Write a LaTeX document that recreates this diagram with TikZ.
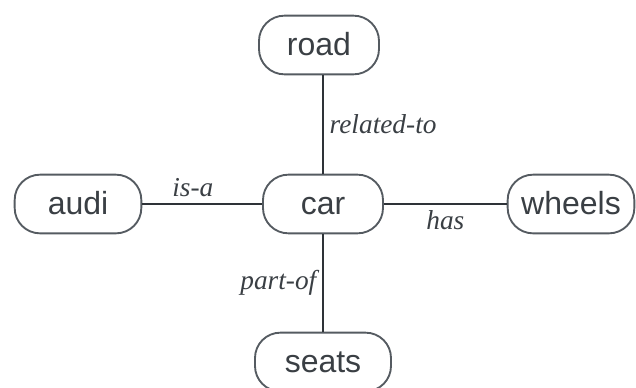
\documentclass[tikz,border=0pt]{standalone}
\usepackage{fontspec}
\newfontfamily\boxfont{Liberation Sans}
\newfontfamily\relfont{Liberation Serif}
\definecolor{boxline}{HTML}{555B61}
\definecolor{edgeline}{HTML}{2E3338}
\definecolor{labeltext}{HTML}{3A3F44}

\begin{document}
\begin{tikzpicture}[x=0.75pt,y=-0.75pt]
    \tikzstyle{concept}=[rectangle,draw=boxline,line width=1.4pt,rounded corners=19pt,minimum height=44pt,text height=17pt,text depth=2pt,font=\boxfont\fontsize{24}{28}\selectfont,text=labeltext]
    \tikzstyle{relation}=[font=\relfont\itshape\fontsize{20.5}{24}\selectfont,text=labeltext,midway,inner sep=4pt]
    \tikzstyle{link}=[draw=edgeline,line width=2.1pt]
    \useasboundingbox (0,0) rectangle (636,387);
    \node (road)   at (319,45)  [concept,minimum width=90pt]  {road};
    \node (car)    at (323,204) [concept,minimum width=90pt]  {car};
    \node (audi)   at (78,204)  [concept,minimum width=95pt]  {audi};
    \node (wheels) at (571,204) [concept,minimum width=95pt]  {wheels};
    \node (seats)  at (323,362) [concept,minimum width=102pt] {seats};
    \draw [link] (road.south -| car.north) -- (car.north) node [relation,right] {related-to};
    \draw [link] (audi) -- (car) node [relation,above,xshift=-7pt] {is-a};
    \draw [link] (car) -- (wheels) node [relation,below] {has};
    \draw [link] (car) -- (seats) node [relation,left] {part-of};
\end{tikzpicture}
\end{document}
